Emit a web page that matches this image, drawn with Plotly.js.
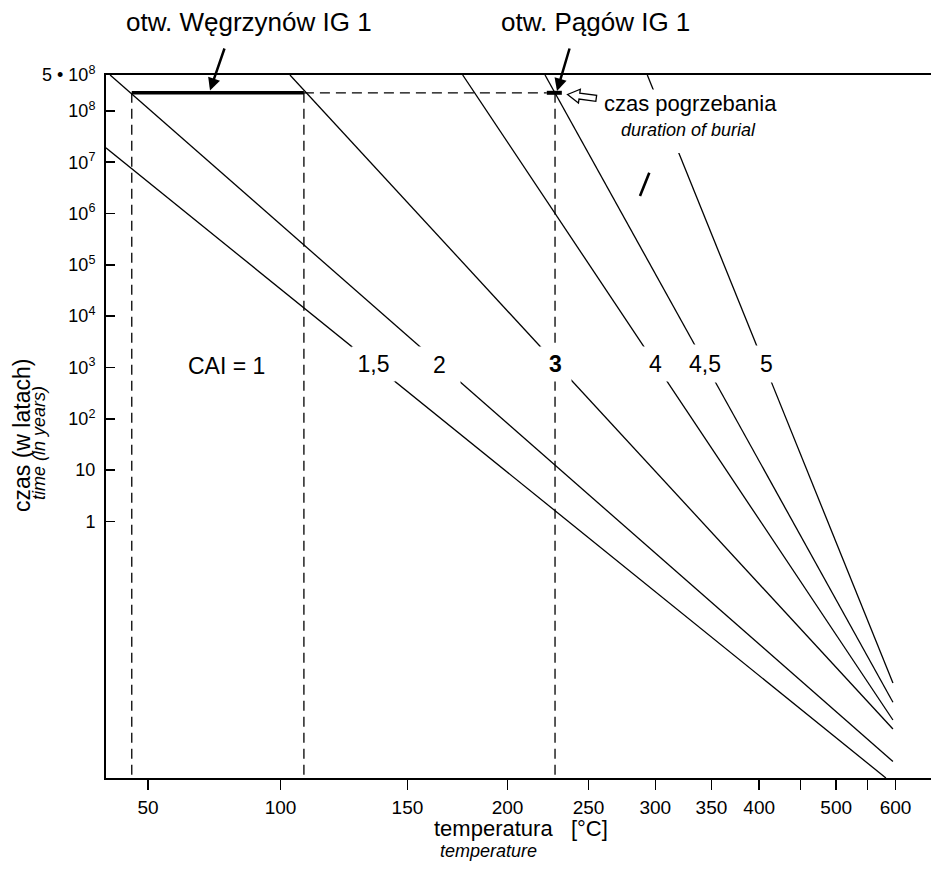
<!DOCTYPE html>
<html><head><meta charset="utf-8">
<script src="https://cdn.plot.ly/plotly-3.0.1.min.js"></script>
<style>html,body{margin:0;padding:0;background:#fff}#chart{width:931px;height:879px}</style>
</head><body><div id="chart"></div>
<script>
// ---- data ----
// CAI isograds (straight lines on a log(time) vs 1/T plot)
const caiLabels     = ['1,5', '2', '3', '4', '4,5', '5'];
const lineStartTemp = [47.8, 48.9, 103.3, 176.2, 221.9, 293.5];     // °C
const lineStartTime = [1.9e7, 5e8, 5e8, 5e8, 5e8, 5e8];             // years
const lineEndTemp   = [582, 595, 595, 595, 595, 595];                // °C
const lineEndTime   = [1e-5, 2.1e-5, 9e-5, 1.35e-4, 3e-4, 7.1e-4];   // years

// boreholes: temperature range reached during burial
const wellNames    = ['otw. Węgrzynów IG 1', 'otw. Pągów IG 1'];
const wellTempMin  = [54.6, 223.0];
const wellTempMax  = [108.3, 232.4];
const wellTempLine = [54.6, 228.1];   // temperature of the dashed drop lines
const burialTime   = 2.25e8;           // years (czas pogrzebania)
const timeFloor    = 1e-5;

// small stray stroke in the figure
const strokeTemp = [287.7, 295.1];
const strokeTime = [2.2e6, 6.2e6];

// axis ticks (the label "50" is printed where 59 °C falls on the 1/T scale)
const xTickTemps  = [59, 100, 150, 200, 250, 300, 350, 400, 450, 500, 550, 600];
const xTickLabels = ['50', '100', '150', '200', '250', '300', '350', '400', '', '500', '', '600'];
const yTickVals   = [5e8, 1e8, 1e7, 1e6, 1e5, 1e4, 1e3, 100, 10, 1];
const yTickLabels = ['5 • 10<sup>8</sup>', '10<sup>8</sup>', '10<sup>7</sup>', '10<sup>6</sup>',
                     '10<sup>5</sup>', '10<sup>4</sup>', '10<sup>3</sup>', '10<sup>2</sup>', '10', '1'];

// ---- helpers ----
const FONT = 'Liberation Sans, Arial, Helvetica, sans-serif';
const toU = t => 1000 / (t + 273.15);        // reciprocal absolute temperature (1000/K)
const ML = 106, MT = 75, PW = 825, PH = 703;  // plot area in px
const px = x => (x - ML) / PW;
const py = y => (MT + PH - y) / PH;

const traces = [];
// dashed guides
const dash = {color: '#000', width: 1.3, dash: '10px,6px'};
[wellTempMin[0], wellTempMax[0], wellTempLine[1]].forEach(t => {
  traces.push({x: [toU(t), toU(t)], y: [burialTime, timeFloor], mode: 'lines', line: dash, hoverinfo: 'skip'});
});
traces.push({x: [toU(wellTempMax[0]), toU(wellTempMin[1])], y: [burialTime, burialTime], mode: 'lines', line: dash, hoverinfo: 'skip'});

// CAI lines
caiLabels.forEach((c, i) => {
  traces.push({x: [toU(lineStartTemp[i]), toU(lineEndTemp[i])], y: [lineStartTime[i], lineEndTime[i]],
    mode: 'lines', name: 'CAI ' + c, line: {color: '#000', width: 1.3}});
});
// burial bars
wellNames.forEach((w, i) => {
  traces.push({x: [toU(wellTempMin[i]), toU(wellTempMax[i])], y: [burialTime, burialTime],
    mode: 'lines', name: w, line: {color: '#000', width: i === 0 ? 3.5 : 4}});
});
// stray stroke
traces.push({x: strokeTemp.map(toU), y: strokeTime, mode: 'lines', line: {color: '#000', width: 2.6}, hoverinfo: 'skip'});

// ---- annotations ----
const ann = [];
function label(text, x, y, size, extra) {
  ann.push(Object.assign({xref: 'paper', yref: 'paper', x: px(x), y: py(y), text: text, showarrow: false,
    xanchor: 'center', yanchor: 'middle', font: {size: size, color: '#000', family: FONT}}, extra || {}));
}
label(wellNames[0], 249, 22, 26);
label(wellNames[1], 595, 22, 26);
label('CAI = 1', 226, 366, 23);
// CAI labels sit in gaps of the lines
const gapBox = [[373.6, 364, 43, 34], [439.6, 365, 41, 36], [555.5, 363.5, 31, 34],
                [655, 363.5, 25, 34], [704.5, 363.5, 36, 37], [766, 363.5, 21, 36]];
caiLabels.forEach((c, i) => {
  const b = gapBox[i];
  label(c === '3' ? '<b>3</b>' : c, b[0], b[1], 23, {bgcolor: '#fff', width: b[2], height: b[3], borderpad: 0});
});
label('czas pogrzebania', 690, 103, 22);
label('<i>duration of burial</i>', 688, 130, 18);
label('czas (w latach)', 22, 436, 23, {textangle: -90});
label('<i>time (in years)</i>', 39, 443, 18, {textangle: -90});
label('temperatura\u00a0\u00a0\u00a0[°C]', 521, 828, 22);
label('<i>temperature</i>', 488, 851, 18);

// solid arrows pointing at the burial bars
[[210, 90.5, 15, -43.5], [557, 91, 13, -44]].forEach(a => {
  ann.push({xref: 'paper', yref: 'paper', x: px(a[0]), y: py(a[1]), ax: a[2], ay: a[3], text: '',
    showarrow: true, arrowhead: 2, arrowsize: 1, arrowwidth: 2.5, arrowcolor: '#000', standoff: 0});
});

// hollow arrow
const tip = [567.5, 94.5], th = Math.atan2(4, 29.5);
const d = [Math.cos(th), Math.sin(th)], n = [-Math.sin(th), Math.cos(th)];
const loc = [[0, 0], [12, -7], [12, -3], [29, -3], [29, 3], [12, 3], [12, 7]];
const pts = loc.map(p => [tip[0] + p[0] * d[0] + p[1] * n[0], tip[1] + p[0] * d[1] + p[1] * n[1]]);
const path = 'M' + pts.map(p => px(p[0]).toFixed(5) + ',' + py(p[1]).toFixed(5)).join(' L') + ' Z';

const shapes = [
  // white mask where line 5 is interrupted by the burial caption
  {type: 'rect', xref: 'paper', yref: 'paper', x0: px(645), x1: px(688), y0: py(153), y1: py(89.5),
   fillcolor: '#fff', line: {width: 0}, layer: 'above'},
  {type: 'path', xref: 'paper', yref: 'paper', path: path, fillcolor: '#fff', line: {color: '#000', width: 1.3}, layer: 'above'}
];

const layout = {
  width: 931, height: 879,
  margin: {l: ML, r: 0, t: MT, b: 879 - MT - PH, pad: 0},
  paper_bgcolor: '#fff', plot_bgcolor: '#fff',
  showlegend: false,
  font: {family: FONT, color: '#000'},
  xaxis: {type: 'linear', range: [3.1154, 1.0569], tickvals: xTickTemps.map(toU), ticktext: xTickLabels,
    ticks: 'outside', ticklen: 10, tickwidth: 1.5, tickcolor: '#000', showline: true, linecolor: '#000', linewidth: 2,
    mirror: true, showgrid: false, zeroline: false, tickfont: {size: 19, family: FONT, color: '#000'}, ticklabelstandoff: 1},
  yaxis: {type: 'log', range: [-5, Math.log10(5e8)], tickvals: yTickVals, ticktext: yTickLabels,
    ticks: 'inside', ticklen: 9, tickwidth: 1.5, tickcolor: '#000', showline: true, linecolor: '#000', linewidth: 2,
    showgrid: false, zeroline: false, tickfont: {size: 18, family: FONT, color: '#000'}, ticklabelstandoff: 5},
  annotations: ann,
  shapes: shapes
};
Plotly.newPlot('chart', traces, layout, {staticPlot: true, displayModeBar: false});
</script></body></html>
